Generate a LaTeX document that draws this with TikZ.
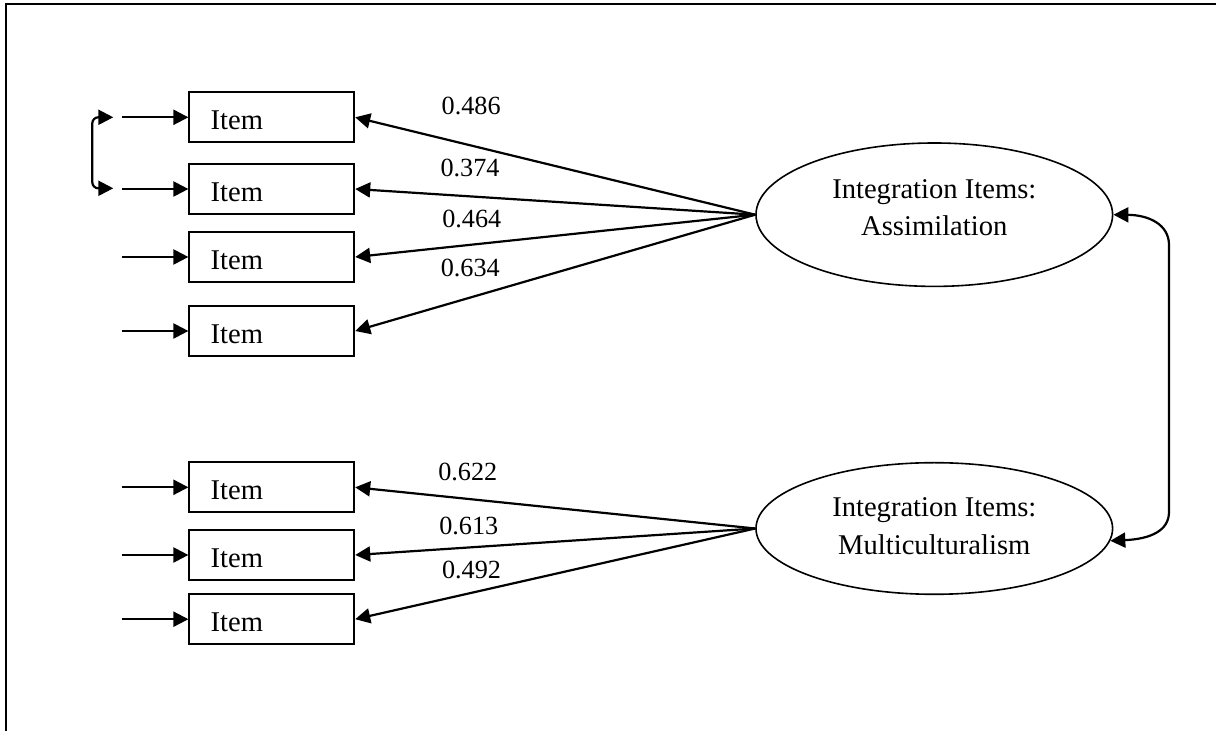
\documentclass[tikz,border=0pt]{standalone}
\usepackage{fontspec}
\setmainfont{Liberation Serif}
\usetikzlibrary{arrows.meta,shapes.geometric}
\tikzset{
  itembox/.style={draw, line width=0.9pt, minimum height=25pt, inner ysep=0pt,
    inner xsep=10.7pt, text width=61.1pt, align=left, text height=12.7pt, text depth=0pt,
    font=\fontsize{14.3pt}{17pt}\selectfont},
  latent/.style={ellipse, draw, line width=0.8pt, minimum width=178.3pt, inner sep=0pt,
    align=center, font=\fontsize{14.3pt}{18.85pt}\selectfont, text depth=0pt},
  coef/.style={anchor=base, inner sep=0pt, font=\fontsize{13.1pt}{15pt}\selectfont},
  conn/.style={line width=1.1pt, -{Triangle[length=7.5pt,width=7.5pt]}},
  dconn/.style={line width=1.1pt, {Triangle[length=7.5pt,width=7.5pt]}-{Triangle[length=7.5pt,width=7.5pt]}},
  frame/.style={line width=1pt}
}
\begin{document}
\begin{tikzpicture}[x=0.5pt,y=-0.5pt]
\useasboundingbox (0,0) rectangle (1216,731);
\draw[frame] (5.6,731) -- (5.6,3.6) -- (1216,3.6);

% items
\node[itembox] (b1) at (271.8,117.3) {Item};
\node[itembox] (b2) at (271.8,189.0) {Item};
\node[itembox] (b3) at (271.8,257.0) {Item};
\node[itembox] (b4) at (271.8,331.0) {Item};
\node[itembox] (b5) at (271.8,487.3) {Item};
\node[itembox] (b6) at (271.8,555.0) {Item};
\node[itembox] (b7) at (271.8,619.2) {Item};

% latent variables
\node[latent, minimum height=71.7pt, text height=21.3pt] (e1) at (934.3,214.7) {Integration Items:\\Assimilation};
\node[latent, minimum height=65.8pt, text height=25.8pt] (e2) at (934.3,528.5) {Integration Items:\\Multiculturalism};

% error terms
\foreach \i in {1,...,7} {
  \coordinate (u\i) at ([xshift=-33pt]b\i.west);
  \draw[conn] (u\i) -- (b\i.west);
}

% correlated errors
\coordinate (c1) at (113.3,117.3);
\coordinate (c2) at (113.3,188.3);
\draw[dconn, rounded corners=3pt] (c1) -| (92.3,150) |- (c2);

% loadings
\foreach \i in {1,...,4} { \draw[conn] (e1.west) -- (b\i.east); }
\foreach \i in {5,6,7} { \draw[conn] (e2.west) -- (b\i.east); }

\node[coef] (l1) at (471.2,115.0) {0.486};
\node[coef] (l2) at (470.0,176.7) {0.374};
\node[coef] (l3) at (471.8,227.3) {0.464};
\node[coef] (l4) at (470.3,276.7) {0.634};
\node[coef] (l5) at (467.8,481.0) {0.622};
\node[coef] (l6) at (468.8,535.0) {0.613};
\node[coef] (l7) at (471.5,578.3) {0.492};

% latent correlation
\draw[dconn] (e1.east) .. controls (1148,215) and (1169,224) .. (1169,245) -- (1169,512) .. controls (1169,531) and (1150,539) .. (e2.-4);
\end{tikzpicture}
\end{document}
